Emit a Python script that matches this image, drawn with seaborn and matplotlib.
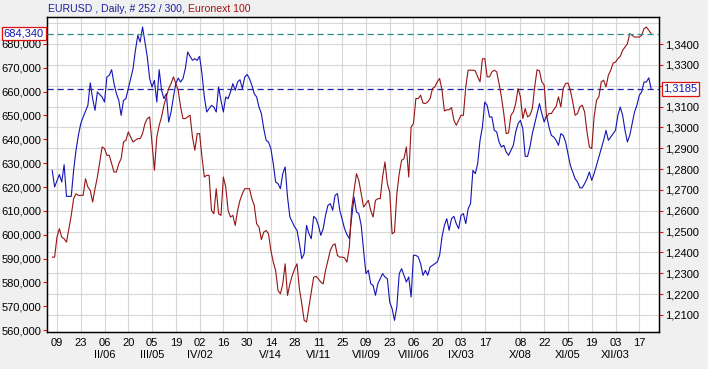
import numpy as np
import pandas as pd
import seaborn as sns
import matplotlib.pyplot as plt
from matplotlib.ticker import FuncFormatter

# Trading-day index, counted in weekdays from Mon 2012-01-02
eurusd_day = [3, 4, 6, 7, 8, 9, 11, 12, 13, 14, 15, 16, 18, 19, 20, 21, 22,
              24, 25, 26, 27, 28, 29, 30, 31, 32, 33, 34] + list(range(36, 256))
eurusd_close = [
    1.2794, 1.2714, 1.2774, 1.2738, 1.2821, 1.2669, 1.2669, 1.2794, 1.2890, 1.2962,
    1.3018, 1.3050, 1.3106, 1.3214, 1.3138, 1.3082, 1.3170, 1.3146, 1.3122, 1.3242,
    1.3250, 1.3277, 1.3210, 1.3162, 1.3130, 1.3058, 1.3130, 1.3138,
    1.3234, 1.3282, 1.3370, 1.3442, 1.3410, 1.3482, 1.3410, 1.3338, 1.3234, 1.3194,
    1.3226, 1.3122, 1.3277, 1.3178, 1.3138, 1.3162, 1.3026, 1.3074, 1.3146, 1.3210,
    1.3237, 1.3218, 1.3234, 1.3282, 1.3362, 1.3341, 1.3322, 1.3330, 1.3322, 1.3341,
    1.3258, 1.3146, 1.3074, 1.3090, 1.3106, 1.3098, 1.3074, 1.3194, 1.3130, 1.3074,
    1.3146, 1.3138, 1.3170, 1.3210, 1.3178, 1.3218, 1.3229, 1.3186, 1.3242, 1.3254,
    1.3234, 1.3202, 1.3162, 1.3146, 1.3098, 1.3066, 1.2994, 1.2938, 1.2930, 1.2898,
    1.2826, 1.2738, 1.2730, 1.2706, 1.2778, 1.2810, 1.2666, 1.2570, 1.2546, 1.2522,
    1.2506, 1.2442, 1.2370, 1.2394, 1.2530, 1.2490, 1.2466, 1.2573, 1.2562, 1.2530,
    1.2482, 1.2514, 1.2578, 1.2626, 1.2634, 1.2602, 1.2674, 1.2682, 1.2602, 1.2557,
    1.2514, 1.2486, 1.2466, 1.2570, 1.2666, 1.2594, 1.2586, 1.2530, 1.2410, 1.2298,
    1.2314, 1.2250, 1.2242, 1.2194, 1.2250, 1.2274, 1.2298, 1.2282, 1.2274, 1.2162,
    1.2130, 1.2074, 1.2138, 1.2298, 1.2322, 1.2290, 1.2258, 1.2282, 1.2186, 1.2386,
    1.2386, 1.2378, 1.2346, 1.2290, 1.2314, 1.2290, 1.2330, 1.2338, 1.2346, 1.2354,
    1.2386, 1.2474, 1.2530, 1.2562, 1.2506, 1.2562, 1.2573, 1.2538, 1.2514, 1.2578,
    1.2586, 1.2538, 1.2610, 1.2634, 1.2794, 1.2778, 1.2826, 1.2938, 1.3002, 1.3122,
    1.3106, 1.3050, 1.3050, 1.2986, 1.2978, 1.2930, 1.2906, 1.2914, 1.2882, 1.2866,
    1.2890, 1.2914, 1.2978, 1.3018, 1.3034, 1.2994, 1.2861, 1.2861, 1.2906, 1.2970,
    1.3018, 1.3066, 1.3114, 1.3066, 1.3026, 1.3058, 1.3002, 1.2962, 1.2954, 1.2938,
    1.2914, 1.2970, 1.2962, 1.2930, 1.2874, 1.2818, 1.2786, 1.2754, 1.2738, 1.2710,
    1.2710, 1.2730, 1.2754, 1.2786, 1.2746, 1.2778, 1.2818, 1.2858, 1.2898, 1.2938,
    1.2986, 1.2938, 1.2954, 1.2970, 1.2986, 1.3058, 1.3098, 1.3058, 1.2986, 1.2930,
    1.2962, 1.3018, 1.3074, 1.3106, 1.3154, 1.3170, 1.3218, 1.3218, 1.3238, 1.3185,
]

enx_day = list(range(3, 256))
enx_close = [
    590.6, 590.6, 599.0, 602.5, 599.0, 598.3, 596.9, 602.5, 608.1, 615.1,
    617.2, 616.5, 616.5, 616.5, 623.5, 620.0, 618.6, 613.7, 619.3, 624.2,
    630.5, 636.8, 636.1, 633.3, 633.3, 629.8, 626.3, 626.3, 629.8, 631.9,
    638.9, 639.6, 643.1, 641.0, 638.9, 639.6, 640.3, 640.3, 642.4, 646.6,
    648.7, 649.4, 638.2, 627.0, 641.0, 645.9, 649.4, 654.3, 657.8, 661.3,
    663.4, 666.2, 663.4, 660.6, 653.6, 648.7, 648.7, 649.4, 650.1, 641.0,
    635.4, 642.4, 642.4, 632.6, 624.2, 624.9, 624.9, 610.2, 608.8, 619.3,
    608.8, 608.1, 624.2, 620.0, 610.2, 607.4, 608.1, 603.9, 610.2, 614.4,
    617.2, 619.3, 619.3, 619.3, 615.1, 612.3, 604.6, 603.2, 597.9, 601.1,
    601.8, 600.4, 593.4, 588.5, 585.0, 576.6, 575.2, 579.4, 587.8, 574.5,
    579.4, 582.9, 585.7, 587.8, 577.3, 571.0, 564.1, 563.4, 569.7, 576.0,
    582.2, 582.5, 581.5, 580.1, 579.4, 585.0, 589.2, 593.4, 595.5, 596.2,
    591.3, 590.6, 590.6, 590.3, 588.5, 594.8, 611.0, 618.6, 625.6, 622.8,
    617.2, 611.6, 613.0, 614.4, 610.2, 607.4, 614.4, 615.1, 615.1, 624.2,
    630.5, 621.4, 617.9, 600.4, 601.1, 617.2, 625.6, 631.2, 631.9, 636.8,
    624.2, 645.2, 646.6, 657.1, 657.1, 658.5, 655.2, 655.0, 655.7, 657.1,
    661.3, 662.0, 664.1, 665.5, 660.6, 651.9, 652.4, 652.4, 653.3, 648.0,
    645.9, 648.0, 650.1, 650.1, 662.0, 669.0, 669.0, 669.0, 668.7, 666.2,
    664.1, 673.8, 673.8, 666.2, 666.2, 668.3, 669.0, 668.3, 663.4, 657.8,
    650.8, 642.4, 642.7, 650.1, 651.5, 655.0, 661.3, 657.8, 648.7, 652.9,
    649.4, 650.1, 652.9, 662.0, 669.2, 668.7, 664.1, 662.7, 649.4, 650.8,
    650.8, 652.4, 653.8, 657.8, 653.6, 661.3, 663.4, 663.6, 660.6, 655.7,
    650.1, 650.8, 653.6, 654.3, 651.5, 643.1, 636.8, 636.1, 649.4, 656.4,
    657.8, 664.1, 664.8, 662.0, 666.9, 669.0, 672.0, 672.4, 673.8, 674.8,
    677.3, 678.7, 680.1, 684.3, 683.6, 682.9, 682.9, 682.9, 683.6, 686.4,
    687.1, 685.7, 684.34,
]

eurusd_last = 1.3185
enx_last = 684.340

tick_dates = ["2012-01-09", "2012-01-23", "2012-02-06", "2012-02-20", "2012-03-05",
              "2012-03-19", "2012-04-02", "2012-04-16", "2012-04-30", "2012-05-14",
              "2012-05-28", "2012-06-11", "2012-06-25", "2012-07-09", "2012-07-23",
              "2012-08-06", "2012-08-20", "2012-09-03", "2012-09-17", "2012-10-08",
              "2012-10-22", "2012-11-05", "2012-11-19", "2012-12-03", "2012-12-17"]
roman = ["I", "II", "III", "IV", "V", "VI", "VII", "VIII", "IX", "X", "XI", "XII"]

enx_ticks = list(range(560, 690, 10))
eurusd_ticks = [1.21, 1.22, 1.23, 1.24, 1.25, 1.26, 1.27, 1.28, 1.29, 1.30, 1.31,
                1.32, 1.33, 1.34]

# Colours
BLUE = "#1414B4"
RED = "#961414"
TEAL = "#2A8C8C"
GRID = "#D6D6D6"
TICK = "#E01010"

sns.set_theme(style="white")
plt.rcParams['font.family'] = ['Liberation Sans', 'DejaVu Sans']
plt.rcParams['font.size'] = 8

# x positions on a weekday axis
bdays = pd.bdate_range("2012-01-02", "2012-12-31")
tick_dt = pd.to_datetime(tick_dates)
tick_pos = bdays.get_indexer(tick_dt)
tick_labels = []
prev_month = tick_dt[0].month
for k, d in enumerate(tick_dt):
    lab = f"{d.day:02d}"
    if k > 0 and d.month != prev_month:
        lab += f"\n{roman[d.month - 1]}/{d.day:02d}"
    prev_month = d.month
    tick_labels.append(lab)

fig = plt.figure(figsize=(7.08, 3.69), dpi=100, facecolor="#F0F0F0")
ax = fig.add_axes([47 / 708, 1 - 332 / 369, 612 / 708, 315 / 369])
ax.set_facecolor("white")
ax2 = ax.twinx()

# EURUSD on the host axis (right scale), Euronext on the twin (left scale)
ax.yaxis.set_ticks_position("right")
ax2.yaxis.set_ticks_position("left")

ax.set_axisbelow(True)
ax.grid(True, which="both", color=GRID, lw=0.8)

sns.lineplot(x=eurusd_day, y=eurusd_close, ax=ax, color=BLUE, lw=0.8)
sns.lineplot(x=enx_day, y=enx_close, ax=ax2, color=RED, lw=0.8)

ax.axhline(eurusd_last, color="#2020A8", lw=0.9, dashes=(5, 3), zorder=3)
ax2.axhline(enx_last, color=TEAL, lw=0.9, dashes=(5, 3), zorder=3)

ax.set_xlim(0.8, 258.3)
ax.set_ylim(1.2018, 1.3530)
ax2.set_ylim(559.2, 691.3)

ax.set_xticks(tick_pos)
ax.set_xticklabels(tick_labels, linespacing=1.25)
ax.set_yticks(eurusd_ticks)
ax.set_yticks([1.35], minor=True)
ax2.set_yticks(enx_ticks)

ax.yaxis.set_major_formatter(FuncFormatter(
    lambda v, p: "" if abs(v - 1.32) < 1e-6 else f"{v:.4f}".replace(".", ",")))
ax2.yaxis.set_major_formatter(FuncFormatter(
    lambda v, p: f"{v:.3f}".replace(".", ",")))

ax.tick_params(axis="x", direction="out", length=3.5, width=0.8, color=TICK,
               labelsize=8, labelcolor="black", pad=1)
ax.tick_params(axis="y", which="major", direction="out", length=3, width=0.8,
               color=TICK, labelsize=8, labelcolor="black", pad=1.5,
               right=True, left=False, labelright=True, labelleft=False)
ax.tick_params(axis="y", which="minor", length=0)
ax2.tick_params(axis="y", direction="out", length=3, width=0.8, color=TICK,
                labelsize=8, labelcolor="black", pad=0.8,
                left=True, right=False, labelleft=True, labelright=False)

ax.set_xlabel("")
ax.set_ylabel("")
ax2.set_ylabel("")

for a in (ax, ax2):
    for s in a.spines.values():
        s.set_color("black")
        s.set_linewidth(0.9)

# last value boxes
box = dict(boxstyle="square,pad=0.15", fc="white", ec="#E01010", lw=0.9)
ax2.text(-0.005, enx_last, f"{enx_last:.3f}".replace(".", ","),
         transform=ax2.get_yaxis_transform(), ha="right", va="center",
         color=BLUE, fontsize=8, bbox=box, clip_on=False, zorder=5)
ax.text(1.007, eurusd_last, f"{eurusd_last:.4f}".replace(".", ","),
        transform=ax.get_yaxis_transform(), ha="left", va="center",
        color=BLUE, fontsize=8, bbox=box, clip_on=False, zorder=5)

# title line in two colours
t1 = fig.text(48 / 708, 1 - 9 / 369, "EURUSD , Daily, # 252 / 300, ",
              color="#1E1EA0", fontsize=7.6, va="center", ha="left")
ax.annotate("Euronext 100", xy=(1, 0.5), xycoords=t1, va="center", ha="left",
            color="#A01414", fontsize=7.6, annotation_clip=False)

fig.savefig("out.png", dpi=100, facecolor=fig.get_facecolor())
